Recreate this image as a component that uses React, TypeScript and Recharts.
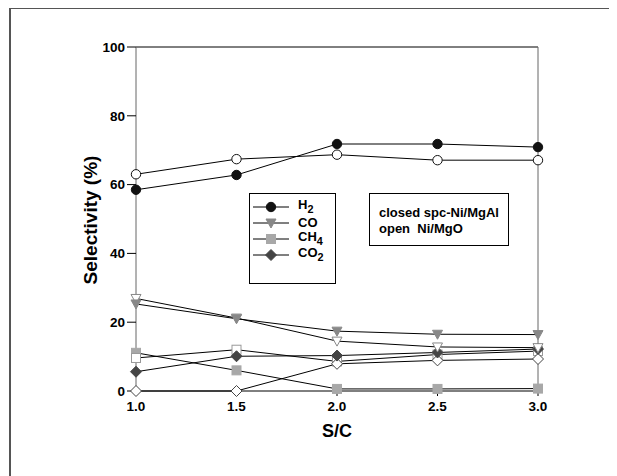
import React from "react";
import { LineChart, Line, XAxis, YAxis, ReferenceLine, Label } from "recharts";

// S/C ratio
const sc = [1.0, 1.5, 2.0, 2.5, 3.0];

// closed = spc-Ni/MgAl, open = Ni/MgO
const h2Closed = [58.5, 62.8, 71.8, 71.8, 70.9];
const h2Open = [63.0, 67.4, 68.7, 67.1, 67.1];
const coClosed = [25.3, 21.0, 17.4, 16.5, 16.4];
const coOpen = [26.9, 21.2, 14.5, 12.8, 12.6];
const ch4Closed = [11.1, 6.0, 0.6, 0.6, 0.7];
const ch4Open = [9.6, 12.0, 8.6, 10.6, 11.6];
const co2Closed = [5.6, 10.1, 10.3, 11.2, 12.2];
const co2Open = [0, 0, 7.9, 8.9, 9.3];

const yTicks = [0, 20, 40, 60, 80, 100];

const data = sc.map((x, i) => ({
  sc: x,
  h2c: h2Closed[i],
  h2o: h2Open[i],
  coc: coClosed[i],
  coo: coOpen[i],
  ch4c: ch4Closed[i],
  ch4o: ch4Open[i],
  co2c: co2Closed[i],
  co2o: co2Open[i],
}));

const FONT = '"Liberation Sans", Arial, Helvetica, sans-serif';

type Shape = "circle" | "tri" | "square" | "diamond";

function Marker({ cx, cy, shape, color, open }: { cx: number; cy: number; shape: Shape; color: string; open?: boolean }) {
  const fill = open ? "#fff" : color;
  const stroke = open && color === "#a8a8a8" ? "#999" : color;
  if (shape === "circle") return <circle cx={cx} cy={cy} r={4.7} fill={fill} stroke={stroke} strokeWidth={1} />;
  if (shape === "tri")
    return (
      <polygon
        points={`${cx - 5},${cy - 4} ${cx + 5},${cy - 4} ${cx},${cy + 5}`}
        fill={fill}
        stroke={stroke}
        strokeWidth={1}
      />
    );
  if (shape === "square")
    return <rect x={cx - 4.5} y={cy - 4.5} width={9} height={9} fill={fill} stroke={stroke} strokeWidth={1} />;
  return (
    <polygon
      points={`${cx},${cy - 5.5} ${cx + 5.5},${cy} ${cx},${cy + 5.5} ${cx - 5.5},${cy}`}
      fill={fill}
      stroke={stroke}
      strokeWidth={1}
    />
  );
}

const series: { key: string; shape: Shape; color: string; open?: boolean }[] = [
  { key: "ch4c", shape: "square", color: "#a8a8a8" },
  { key: "ch4o", shape: "square", color: "#a8a8a8", open: true },
  { key: "co2o", shape: "diamond", color: "#444", open: true },
  { key: "co2c", shape: "diamond", color: "#444" },
  { key: "coo", shape: "tri", color: "#888", open: true },
  { key: "coc", shape: "tri", color: "#888" },
  { key: "h2o", shape: "circle", color: "#111", open: true },
  { key: "h2c", shape: "circle", color: "#111" },
];

const legendItems: { label: React.ReactNode; shape: Shape; color: string }[] = [
  { label: <>H<sub>2</sub></>, shape: "circle", color: "#111" },
  { label: "CO", shape: "tri", color: "#888" },
  { label: <>CH<sub>4</sub></>, shape: "square", color: "#a8a8a8" },
  { label: <>CO<sub>2</sub></>, shape: "diamond", color: "#444" },
];

const tickStyle = { fontSize: 13.5, fontWeight: 700, fill: "#000", fontFamily: FONT };

export default function App() {
  return (
    <div style={{ position: "relative", width: 609, height: 468, fontFamily: FONT }}>
      <LineChart width={609} height={468} data={data} margin={{ top: 39, right: 79, bottom: 55, left: 88 }}>
        <XAxis
          type="number"
          dataKey="sc"
          domain={[1, 3]}
          ticks={sc}
          tickFormatter={(v: number) => v.toFixed(1)}
          tick={tickStyle}
          tickSize={5}
          tickMargin={5}
          height={30}
          axisLine={{ stroke: "#000" }}
          tickLine={{ stroke: "#000" }}
        >
          <Label
            content={() => (
              <text x={329} y={423} textAnchor="middle" dominantBaseline="central" style={{ fontSize: 18, fontWeight: 700, fontFamily: FONT }} fill="#000">
                S/C
              </text>
            )}
          />
        </XAxis>
        <YAxis
          type="number"
          domain={[0, 100]}
          ticks={yTicks}
          tick={tickStyle}
          tickSize={9}
          tickMargin={2}
          width={40}
          axisLine={{ stroke: "#666" }}
          tickLine={{ stroke: "#000" }}
        >
          <Label
            content={() => (
              <text
                x={82}
                y={212}
                transform="rotate(-90 82 212)"
                textAnchor="middle"
                dominantBaseline="central"
                style={{ fontSize: 19, fontWeight: 700, fontFamily: FONT }}
                fill="#000"
              >
                Selectivity (%)
              </text>
            )}
          />
        </YAxis>
        <ReferenceLine y={100} stroke="#000" />
        <ReferenceLine x={3} stroke="#666" />
        {series.map((s) => (
          <Line
            key={s.key}
            type="linear"
            dataKey={s.key}
            stroke="#000"
            strokeWidth={1}
            isAnimationActive={false}
            dot={(p: any) => (
              <Marker key={`${s.key}-${p.index}`} cx={p.cx} cy={p.cy} shape={s.shape} color={s.color} open={s.open} />
            )}
            activeDot={false}
          />
        ))}
      </LineChart>

      {/* page frame: only left and top edges */}
      <div
        style={{
          position: "absolute",
          left: 1,
          top: -1,
          width: 608,
          height: 469,
          borderLeft: "2px solid #555",
          borderTop: "2px solid #555",
          boxSizing: "border-box",
          pointerEvents: "none",
          zIndex: 5,
        }}
      />

      {/* legend */}
      <div
        style={{
          position: "absolute",
          left: 241,
          top: 185,
          width: 87,
          height: 91,
          border: "1px solid #000",
          background: "#fff",
          boxSizing: "border-box",
        }}
      >
        {legendItems.map((it, i) => (
          <div key={i} style={{ position: "absolute", left: 2, top: 13 + i * 16 - 6, height: 12, display: "flex", alignItems: "center" }}>
            <svg width={40} height={12}>
              <line x1={1} y1={6} x2={37} y2={6} stroke="#000" strokeWidth={1} />
              <Marker cx={19} cy={6} shape={it.shape} color={it.color} />
            </svg>
            <span style={{ marginLeft: 6, fontSize: 13, fontWeight: 700, lineHeight: "12px" }}>{it.label}</span>
          </div>
        ))}
      </div>

      {/* note box */}
      <div
        style={{
          position: "absolute",
          left: 361,
          top: 185,
          width: 140,
          height: 53,
          border: "1px solid #000",
          background: "#fff",
          boxSizing: "border-box",
          padding: "11px 0 0 9px",
          fontSize: 13,
          fontWeight: 700,
          lineHeight: "16px",
          whiteSpace: "pre",
        }}
      >
        <div>closed spc-Ni/MgAl</div>
        <div>open  Ni/MgO</div>
      </div>
    </div>
  );
}
